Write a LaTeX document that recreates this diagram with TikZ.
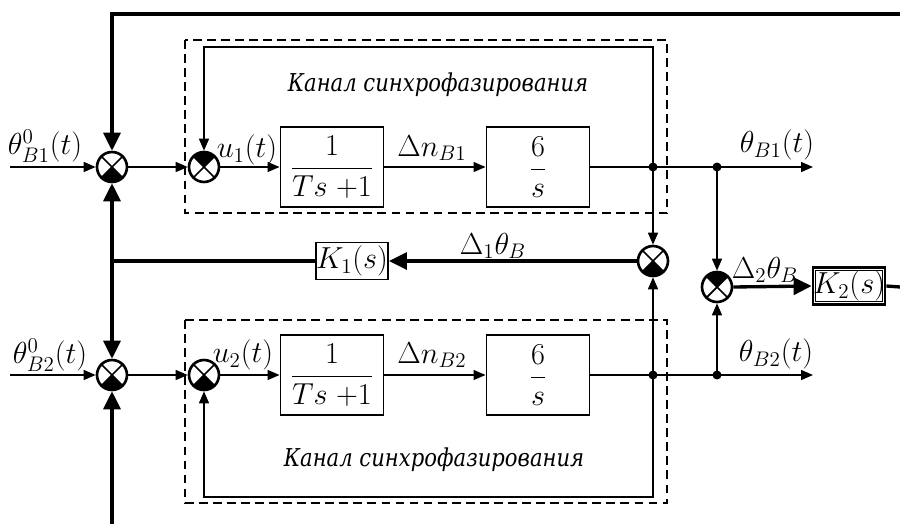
\documentclass[tikz,border=0pt]{standalone}
\usepackage{fontspec}
\setmainfont{DejaVu Serif}
\usepackage{graphicx}
\usetikzlibrary{arrows.meta}

\tikzset{
  wire/.style={line width=0.8pt},
  bus/.style={line width=1.9pt},
  tip/.style={-{Triangle[length=0.24cm,width=0.2cm]}},
  bigtip/.style={-{Triangle[length=0.36cm,width=0.34cm]}},
  block/.style={draw, line width=1.1pt, minimum width=2.06cm,
        minimum height=1.6cm, inner sep=0pt},
  gain/.style={draw, line width=1.1pt, minimum width=1.44cm,
        minimum height=0.74cm, inner sep=0pt},
  channel/.style={draw, line width=0.7pt, dash pattern=on 5pt off 3pt},
  sum/.style={circle, draw, line width=1.5pt, minimum size=0.6cm, inner sep=0pt,
        path picture={
          \fill (path picture bounding box.center)
            -- (path picture bounding box.#1 west)
            -- (path picture bounding box.#1 east) -- cycle;
          \draw[line width=1pt]
            (path picture bounding box.north west) -- (path picture bounding box.south east)
            (path picture bounding box.north east) -- (path picture bounding box.south west);}},
  dot/.style={circle, fill, inner sep=0pt, minimum size=0.18cm},
  lbl/.style={inner sep=0pt},
  title/.style={inner sep=0pt, font=\fontsize{14}{17}\selectfont\itshape}
}
\newcommand{\chan}{\scalebox{0.86}[1]{Канал синхрофазирования}}

\begin{document}
\begin{tikzpicture}[x=0.02cm, y=-0.02cm, font=\fontsize{17}{20}\selectfont]
  \useasboundingbox (0,0) rectangle (900,524);

  \draw[channel] (185,40) rectangle (667,213);
  \draw[channel] (185,320) rectangle (667,503);

  \coordinate (in1) at (10,167);
  \coordinate (in2) at (10,375);
  \coordinate (tl) at (112,14);
  \coordinate (tr) at (900,14);
  \coordinate (bl) at (112,524);
  \coordinate (jl) at (112,261);
  \coordinate (rt) at (900,287);
  \coordinate (out1) at (813,167);
  \coordinate (out2) at (813,375);

  \node[sum=south] (s1o) at (112,167) {};
  \node[sum=north] (s1i) at (204,167) {};
  \node[sum=south] (s2o) at (112,375) {};
  \node[sum=south] (s2i) at (204,375) {};
  \node[sum=south] (sm) at (653,261) {};
  \node[sum=north] (sr) at (717,287) {};

  \node[block] (b11) at (332,167) {$\displaystyle\frac{1}{Ts\;{+}1}$};
  \node[block] (b12) at (538,167) {$\displaystyle\frac{6}{s}$};
  \node[block] (b21) at (332,375) {$\displaystyle\frac{1}{Ts\;{+}1}$};
  \node[block] (b22) at (538,375) {$\displaystyle\frac{6}{s}$};
  \node[gain] (K1) at (352,261) {$K_1(s)$};
  \node[gain, line width=1.6pt] (K2) at (849,286) {$K_2(s)$};
  \draw[line width=0.5pt] ([shift={(-0.08cm,-0.08cm)}]K2.north east)
    rectangle ([shift={(0.08cm,0.08cm)}]K2.south west);

  \node[dot] (d11) at (653,167) {};
  \node[dot] (d12) at (717,167) {};
  \node[dot] (d21) at (653,375) {};
  \node[dot] (d22) at (717,375) {};

  \draw[bus, bigtip] (tr) -- (tl) -- (s1o.north);
  \draw[bus] (K1.west) -- (jl);
  \draw[bus, bigtip] (jl) -- (s1o.south);
  \draw[bus, bigtip] (jl) -- (s2o.north);
  \draw[bus, bigtip] (bl) -- (s2o.south);
  \draw[bus, bigtip] (sm.west) -- (K1.east);
  \draw[bus, bigtip] (sr.east) -- (K2.west);
  \draw[bus] (K2.east) -- (rt);

  \draw[wire, tip] (in1) -- (s1o.west);
  \draw[wire, tip] (s1o.east) -- (s1i.west);
  \draw[wire, tip] (s1i.east) -- (b11.west);
  \draw[wire, tip] (b11.east) -- (b12.west);
  \draw[wire, tip] (b12.east) -- (out1);
  \draw[wire, tip] (d11.center) -- (653,47) -| (s1i.north);
  \draw[wire, tip] (d11.center) -- (sm.north);
  \draw[wire, tip] (d12.center) -- (sr.north);

  \draw[wire, tip] (in2) -- (s2o.west);
  \draw[wire, tip] (s2o.east) -- (s2i.west);
  \draw[wire, tip] (s2i.east) -- (b21.west);
  \draw[wire, tip] (b21.east) -- (b22.west);
  \draw[wire, tip] (b22.east) -- (out2);
  \draw[wire, tip] (d21.center) -- (653,497) -| (s2i.south);
  \draw[wire, tip] (d21.center) -- (sm.south);
  \draw[wire, tip] (d22.center) -- (sr.south);

  \node[lbl] (tin1) at (45,146) {$\theta_{B1}^{0}(t)$};
  \node[lbl] (tin2) at (50,355) {$\theta_{B2}^{0}(t)$};
  \node[lbl] (u1) at (247,150) {$u_1(t)$};
  \node[lbl] (u2) at (243,355) {$u_2(t)$};
  \node[lbl] (dn1) at (432,148) {$\Delta n_{B1}$};
  \node[lbl] (dn2) at (432,355) {$\Delta n_{B2}$};
  \node[lbl] (tout1) at (777,145) {$\theta_{B1}(t)$};
  \node[lbl] (tout2) at (776,354) {$\theta_{B2}(t)$};
  \node[lbl] (d1t) at (493,246) {$\Delta_1\theta_B$};
  \node[lbl] (d2t) at (765,270) {$\Delta_2\theta_B$};
  \node[title] (ch1) at (438,85) {\chan};
  \node[title] (ch2) at (434,460) {\chan};
\end{tikzpicture}
\end{document}
